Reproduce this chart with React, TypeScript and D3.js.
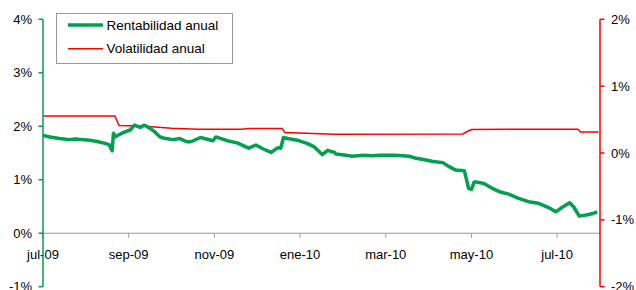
import React from 'react';
import * as d3 from 'd3';

// rentabilidad anual (%), eje izquierdo
const rentabilidad: [string, number][] = [
  ['2009-07-01', 1.83], ['2009-07-06', 1.80], ['2009-07-13', 1.77], ['2009-07-20', 1.75],
  ['2009-07-24', 1.76], ['2009-08-04', 1.74], ['2009-08-10', 1.71], ['2009-08-15', 1.68],
  ['2009-08-18', 1.65], ['2009-08-20', 1.54], ['2009-08-21', 1.87], ['2009-08-22', 1.80],
  ['2009-08-25', 1.84], ['2009-08-28', 1.88], ['2009-09-02', 1.93], ['2009-09-05', 2.02],
  ['2009-09-09', 1.98], ['2009-09-12', 2.02], ['2009-09-16', 1.96], ['2009-09-19', 1.90],
  ['2009-09-23', 1.80], ['2009-09-27', 1.77], ['2009-10-02', 1.75], ['2009-10-07', 1.77],
  ['2009-10-12', 1.71], ['2009-10-15', 1.71], ['2009-10-22', 1.79], ['2009-10-31', 1.73],
  ['2009-11-02', 1.80], ['2009-11-10', 1.73], ['2009-11-17', 1.69], ['2009-11-25', 1.59],
  ['2009-11-30', 1.65], ['2009-12-05', 1.58], ['2009-12-11', 1.51], ['2009-12-16', 1.60],
  ['2009-12-18', 1.59], ['2009-12-20', 1.79], ['2009-12-23', 1.77], ['2009-12-30', 1.74],
  ['2010-01-06', 1.68], ['2010-01-11', 1.62], ['2010-01-17', 1.47], ['2010-01-21', 1.55],
  ['2010-01-26', 1.51], ['2010-01-27', 1.48], ['2010-02-03', 1.46], ['2010-02-07', 1.44],
  ['2010-02-14', 1.46], ['2010-02-20', 1.45], ['2010-02-25', 1.46], ['2010-03-08', 1.46],
  ['2010-03-18', 1.44], ['2010-03-23', 1.40], ['2010-03-30', 1.37], ['2010-04-04', 1.34],
  ['2010-04-11', 1.32], ['2010-04-15', 1.25], ['2010-04-20', 1.18], ['2010-04-26', 1.17],
  ['2010-04-29', 0.84], ['2010-05-01', 0.82], ['2010-05-03', 0.96], ['2010-05-04', 0.96],
  ['2010-05-10', 0.93], ['2010-05-16', 0.84], ['2010-05-22', 0.77], ['2010-05-28', 0.73],
  ['2010-06-04', 0.65], ['2010-06-11', 0.59], ['2010-06-18', 0.56], ['2010-06-25', 0.48],
  ['2010-06-30', 0.40], ['2010-07-05', 0.49], ['2010-07-10', 0.57], ['2010-07-13', 0.49],
  ['2010-07-17', 0.32], ['2010-07-22', 0.34], ['2010-07-27', 0.37], ['2010-07-30', 0.40],
];

// volatilidad anual (%), eje derecho
const volatilidad: [string, number][] = [
  ['2009-07-01', 0.553], ['2009-08-22', 0.553], ['2009-08-25', 0.41], ['2009-09-10', 0.405],
  ['2009-10-01', 0.37], ['2009-10-20', 0.355], ['2009-11-20', 0.355], ['2009-11-25', 0.365],
  ['2009-12-19', 0.365], ['2009-12-21', 0.305], ['2010-01-26', 0.28], ['2010-04-25', 0.284],
  ['2010-04-27', 0.31], ['2010-05-01', 0.35], ['2010-06-15', 0.357], ['2010-07-16', 0.355],
  ['2010-07-18', 0.315], ['2010-07-31', 0.315],
];

const mesesEs = ['ene', 'feb', 'mar', 'abr', 'may', 'jun', 'jul', 'ago', 'sep', 'oct', 'nov', 'dic'];
const leftTicks = [4, 3, 2, 1, 0, -1];
const rightTicks = [2, 1, 0, -1, -2];
const seriesNames = ['Rentabilidad anual', 'Volatilidad anual'];

const GREEN = '#00a04f';
const RED = '#ff0000';
const FONT = 'Liberation Sans, Arial, sans-serif';

const parse = d3.timeParse('%Y-%m-%d');

export default function App() {
  const left = 43, right = 600, top = 19.3, bottom = 286.7;
  const months = d3.timeMonth.range(new Date(2009, 6, 1), new Date(2010, 7, 2));
  const x = d3.scaleTime()
    .domain(months)
    .range(months.map((_, i) => left + (i * (right - left)) / (months.length - 1)));
  const yL = d3.scaleLinear().domain([-1, 4]).range([bottom, top]);
  const yR = d3.scaleLinear().domain([-2, 2]).range([bottom, top]);
  const y0 = yL(0);

  const rent = rentabilidad.map(([d, v]) => ({ d: parse(d)!, v }));
  const vol = volatilidad.map(([d, v]) => ({ d: parse(d)!, v }));

  const rentLine = d3.line<{ d: Date; v: number }>().x(p => x(p.d)).y(p => yL(p.v));
  const volLine = d3.line<{ d: Date; v: number }>().x(p => x(p.d)).y(p => yR(p.v));

  const xTicks = months.filter((_, i) => i % 2 === 0 && i < months.length - 1);
  const fmt = (d: Date) => `${mesesEs[d.getMonth()]}-${String(d.getFullYear()).slice(2)}`;

  return (
    <svg width={636} height={290} style={{ position: 'absolute', left: 0, top: 0, background: '#fff' }}
      fontFamily={FONT} fontSize={13}>
      {/* eje x */}
      <line x1={left} x2={right} y1={y0} y2={y0} stroke="#999" strokeWidth={1} />
      {xTicks.map((t, i) => (
        <g key={i}>
          <line x1={x(t)} x2={x(t)} y1={y0} y2={y0 + 4.5} stroke="#999" />
          <text x={x(t)} y={y0 + 26} textAnchor="middle" fill="#000">{fmt(t)}</text>
        </g>
      ))}

      {/* series */}
      <path d={volLine(vol)!} fill="none" stroke={RED} strokeWidth={1.5} />
      <path d={rentLine(rent)!} fill="none" stroke={GREEN} strokeWidth={3.5} strokeLinejoin="round" />

      {/* eje izquierdo */}
      <line x1={left} x2={left} y1={top} y2={bottom} stroke={GREEN} strokeWidth={1.5} />
      {leftTicks.map(t => (
        <g key={t}>
          <line x1={left - 4.5} x2={left} y1={yL(t)} y2={yL(t)} stroke={GREEN} strokeWidth={1.5} />
          <text x={32} y={yL(t)} dy="0.35em" textAnchor="end" fill="#000">{t}%</text>
        </g>
      ))}

      {/* eje derecho */}
      <line x1={right} x2={right} y1={top} y2={bottom} stroke={RED} strokeWidth={1.5} />
      {rightTicks.map(t => (
        <g key={t}>
          <line x1={right} x2={right + 4.5} y1={yR(t)} y2={yR(t)} stroke={RED} strokeWidth={1.5} />
          <text x={611} y={yR(t)} dy="0.35em" textAnchor="start" fill="#000">{t}%</text>
        </g>
      ))}

      {/* leyenda */}
      <rect x={56.5} y={13.5} width={176} height={50} fill="#fff" stroke="#999" strokeWidth={1} />
      <line x1={68} x2={103} y1={25} y2={25} stroke={GREEN} strokeWidth={3.5} />
      <text x={106.5} y={25} dy="0.35em" fontSize={13.5} fill="#000">{seriesNames[0]}</text>
      <line x1={68} x2={103} y1={48.7} y2={48.7} stroke={RED} strokeWidth={1.5} />
      <text x={106.5} y={48.7} dy="0.35em" fontSize={13.5} fill="#000">{seriesNames[1]}</text>
    </svg>
  );
}
